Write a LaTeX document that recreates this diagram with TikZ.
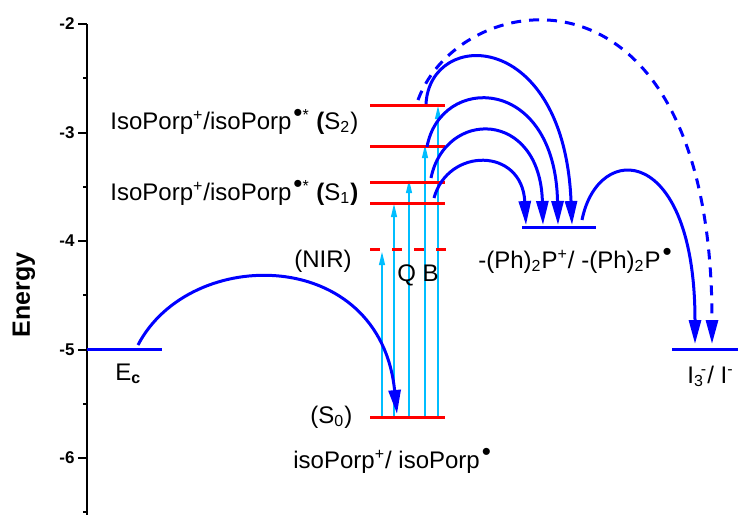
\documentclass[tikz,border=0pt]{standalone}
\usepackage{fontspec}
\setmainfont{Liberation Sans}
\usetikzlibrary{arrows.meta}
\definecolor{excblue}{RGB}{0,190,255}
\newcommand{\rdot}{\kern1pt\raisebox{3.6pt}{\fontsize{13}{13}\selectfont •}}
\begin{document}
\begin{tikzpicture}[x=0.5pt, y=-0.5pt,
  lbl/.style={font=\fontsize{12}{14}\selectfont, inner sep=0pt},
  ticklbl/.style={font=\fontsize{8.5}{10}\selectfont\bfseries, inner sep=0pt, anchor=east},
  axisline/.style={black, line width=1pt},
  level/.style={red, line width=1.5pt},
  bluelevel/.style={blue, line width=1.5pt},
  exc/.style={excblue, line width=0.6pt, -{Triangle[length=6.5pt,width=3pt]}},
  et/.style={blue, line width=1.5pt, -{Triangle[length=12pt,width=6pt]}}]
  \useasboundingbox (0,0) rectangle (739,515);

  % energy axis
  \draw[axisline] (87,24) -- (87,515);
  \foreach \e/\y [count=\i] in {-2/24,-3/132.5,-4/241,-5/349.5,-6/458} {
    \draw[axisline] (78,\y) -- (87,\y);
    \node (tick\i) [ticklbl] at (75,\y) {\e};
  }
  \foreach \y in {78.25,186.75,295.25,403.75,512.25}
    \draw[axisline] (83,\y) -- (87,\y);
  \node (energy) [lbl, font=\fontsize{12.5}{14}\selectfont\bfseries, rotate=90] at (24,295) {Energy};

  % levels
  \coordinate (ecw) at (87,349);   \coordinate (ece) at (162,349);
  \coordinate (s0w) at (370,417);  \coordinate (s0e) at (445,417);
  \coordinate (nirw) at (370,249); \coordinate (nire) at (447,249);
  \coordinate (q1w) at (370,203);  \coordinate (q1e) at (445,203);
  \coordinate (q2w) at (370,182);  \coordinate (q2e) at (445,182);
  \coordinate (b1w) at (370,146);  \coordinate (b1e) at (445,146);
  \coordinate (b2w) at (370,105);  \coordinate (b2e) at (445,105);
  \coordinate (phw) at (522,227);  \coordinate (phe) at (596,227);
  \coordinate (i3w) at (672,349);  \coordinate (i3e) at (738,349);

  % absorption (Q and B bands)
  \foreach \n/\x/\y in {1/382/252, 2/394/204, 3/409/180, 4/425/145, 5/438/106} {
    \coordinate (up\n) at (\x,\y);
    \draw[exc] (up\n |- s0w) -- (up\n);
  }

  \draw[bluelevel] (ecw) -- (ece);
  \draw[level] (s0w) -- (s0e);
  \draw[level, dash pattern=on 5pt off 6pt] (nirw) -- (nire);
  \draw[level] (q1w) -- (q1e);
  \draw[level] (q2w) -- (q2e);
  \draw[level] (b1w) -- (b1e);
  \draw[level] (b2w) -- (b2e);
  \draw[bluelevel] (phw) -- (phe);
  \draw[bluelevel] (i3w) -- (i3e);

  % labels
  \node (ec) [lbl, anchor=base west] at (115,380) {E\textsubscript{\bfseries c}};
  \node (s2lbl) [lbl, anchor=base west] at (110,129)
    {IsoPorp\textsuperscript{+}/isoPorp\rdot\textsuperscript{*} \textbf{(}S\textsubscript{2})};
  \node (s1lbl) [lbl, anchor=base west] at (110,200)
    {IsoPorp\textsuperscript{+}/isoPorp\rdot\textsuperscript{*} \textbf{(}S\textsubscript{1}\textbf{)}};
  \node (nir) [lbl, anchor=base east] at (352,267) {(NIR)};
  \node (qb) [lbl, anchor=base west] at (397,281) {Q B};
  \node (s0) [lbl, anchor=base west] at (310,423) {(S\textsubscript{0})};
  \node (porp) [lbl, anchor=base west] at (293,468) {isoPorp\textsuperscript{+}/ isoPorp\rdot};
  \node (ph) [lbl, anchor=base west] at (478,268)
    {-(Ph)\textsubscript{2}P\textsuperscript{+}/ -(Ph)\textsubscript{2}P\rdot};
  \node (i3) [lbl, anchor=base east] at (734,383)
    {I\textsubscript{3}\kern-1.5pt\textsuperscript{-}/ I\textsuperscript{-}};

  % electron transfer
  \coordinate (ecout) at (138,345);  \coordinate (s0in) at (397,414);
  \coordinate (q1out) at (434,198);  \coordinate (ph1) at (526,225);
  \coordinate (q2out) at (431,178);  \coordinate (ph2) at (543,225);
  \coordinate (b1out) at (427,147);  \coordinate (ph3) at (558,225);
  \coordinate (b2out) at (426,104);  \coordinate (ph4) at (572,225);
  \coordinate (b2dash) at (418,100);
  \coordinate (phout) at (582,220);
  \coordinate (i3a) at (695,344);    \coordinate (i3b) at (712,344);

  \draw[et] (ecout) .. controls +(52,-100) and +(-17,-168) .. (s0in);
  \draw[et] (q1out) .. controls +(14,-51) and +(-4,-78) .. (ph1);
  \draw[et] (q2out) .. controls +(14,-69) and +(-3,-116) .. (ph2);
  \draw[et] (b1out) .. controls +(13,-73) and +(-3,-151) .. (ph3);
  \draw[et] (b2out) .. controls +(4,-76) and +(-8,-197) .. (ph4);
  \draw[et, dash pattern=on 5pt off 4pt] (b2dash) .. controls +(42,-115) and +(0,-399) .. (i3b);
  \draw[et] (phout) .. controls +(16,-80) and +(0,-200) .. (i3a);
\end{tikzpicture}
\end{document}
